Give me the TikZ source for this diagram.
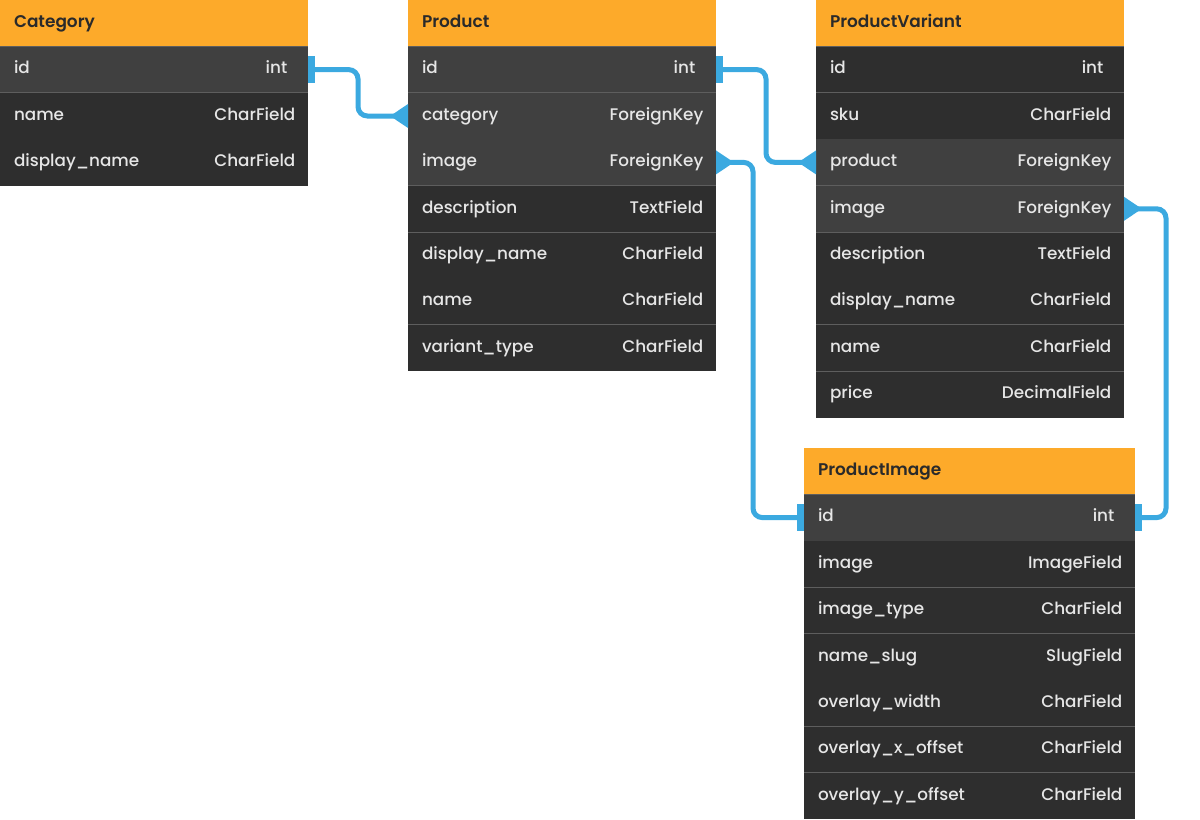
\documentclass[tikz,border=0pt]{standalone}
\usepackage{fontspec}
\setmainfont{Poppins}
\newfontfamily\medfont{Poppins Medium}
\newfontfamily\semifont{Poppins SemiBold}
\usetikzlibrary{positioning, arrows.meta, calc}
\definecolor{headorange}{HTML}{FDAA2A}
\definecolor{headtext}{HTML}{2A2A2A}
\definecolor{rowdark}{HTML}{2E2E2E}
\definecolor{rowlight}{HTML}{404040}
\definecolor{rowline}{HTML}{5E5E5E}
\definecolor{fieldtext}{HTML}{E6E6E6}
\definecolor{linkblue}{HTML}{3BA9E0}
\tikzstyle{head} = [rectangle, fill=headorange, text=headtext, minimum height=34.8pt, text width=212pt, text height=9.5pt, text depth=3pt, inner xsep=9.5pt, inner ysep=0pt, outer sep=0pt, font=\semifont\fontsize{12.7}{14}\selectfont]
\tikzstyle{field} = [rectangle, fill=rowdark, text=fieldtext, minimum height=34.8pt, text width=212pt, text height=9.5pt, text depth=3pt, inner xsep=9.5pt, inner ysep=0pt, outer sep=0pt, font=\medfont\fontsize{12.6}{14}\selectfont]
\tikzstyle{key} = [field, fill=rowlight]
\tikzstyle{wide} = [text width=229.25pt]
\tikzstyle{sep} = [draw=rowline, line width=0.6pt]
\tikzstyle{rel} = [draw=linkblue, line width=3.75pt, rounded corners=7pt]
\tikzset{one/.tip={Rectangle[length=5.25pt,width=20pt]},
         many/.tip={Triangle[reversed,length=13.5pt,width=17pt]}}
\newcommand{\fld}[2]{\hspace*{1pt}#1\hfill #2}
\newcommand{\pk}{\hspace*{6pt}}

\begin{document}
\begin{tikzpicture}[x=0.75pt, y=-0.75pt]
  \useasboundingbox[fill=white] (0,0) rectangle (1200,819);

  % Category
  \node (cathead) [head, anchor=north west] at (0,0) {\fld{Category}{}};
  \node (catid) [key, below=0pt of cathead] {\fld{id}{int\pk}};
  \node (catname) [field, below=0pt of catid] {\fld{name}{CharField}};
  \node (catdisp) [field, below=0pt of catname] {\fld{display\_name}{CharField}};

  % Product
  \node (phead) [head, anchor=north west] at (408,0) {\fld{Product}{}};
  \node (pid) [key, below=0pt of phead] {\fld{id}{int\pk}};
  \node (pcat) [key, below=0pt of pid] {\fld{category}{ForeignKey}};
  \node (pimg) [key, below=0pt of pcat] {\fld{image}{ForeignKey}};
  \node (pdesc) [field, below=0pt of pimg] {\fld{description}{TextField}};
  \node (pdisp) [field, below=0pt of pdesc] {\fld{display\_name}{CharField}};
  \node (pname) [field, below=0pt of pdisp] {\fld{name}{CharField}};
  \node (ptype) [field, below=0pt of pname] {\fld{variant\_type}{CharField}};

  % ProductVariant
  \node (pvhead) [head, anchor=north west] at (816,0) {\fld{ProductVariant}{}};
  \node (pvid) [field, below=0pt of pvhead] {\fld{id}{int\pk}};
  \node (pvsku) [field, below=0pt of pvid] {\fld{sku}{CharField}};
  \node (pvprod) [key, below=0pt of pvsku] {\fld{product}{ForeignKey}};
  \node (pvimg) [key, below=0pt of pvprod] {\fld{image}{ForeignKey}};
  \node (pvdesc) [field, below=0pt of pvimg] {\fld{description}{TextField}};
  \node (pvdisp) [field, below=0pt of pvdesc] {\fld{display\_name}{CharField}};
  \node (pvname) [field, below=0pt of pvdisp] {\fld{name}{CharField}};
  \node (pvprice) [field, below=0pt of pvname] {\fld{price}{DecimalField}};

  % ProductImage
  \node (pihead) [head, wide, anchor=north west] at (804,448) {\fld{ProductImage}{}};
  \node (piid) [key, wide, below=0pt of pihead] {\fld{id}{int\pk}};
  \node (piimg) [field, wide, below=0pt of piid] {\fld{image}{ImageField}};
  \node (pitype) [field, wide, below=0pt of piimg] {\fld{image\_type}{CharField}};
  \node (pislug) [field, wide, below=0pt of pitype] {\fld{name\_slug}{SlugField}};
  \node (piwidth) [field, wide, below=0pt of pislug] {\fld{overlay\_width}{CharField}};
  \node (pixoff) [field, wide, below=0pt of piwidth] {\fld{overlay\_x\_offset}{CharField}};
  \node (piyoff) [field, wide, below=0pt of pixoff] {\fld{overlay\_y\_offset}{CharField}};

  \foreach \r in {cathead, catid, phead, pid, pimg, pdesc, pname,
                  pvhead, pvid, pvprod, pvimg, pvdisp, pvname,
                  pihead, piimg, pitype, piwidth, pixoff}
    \draw [sep] (\r.south west) -- (\r.south east);

  % relations
  \draw [rel, one-many] (catid.east) -| ($(catid.east)!0.5!(pcat.west)$) |- (pcat.west);
  \draw [rel, one-many] (pid.east) -| ($(pid.east)!0.5!(pvprod.west)$) |- (pvprod.west);
  \draw [rel, many-one] (pimg.east) -- ++(37,0) |- (piid.west);
  \draw [rel, many-one] (pvimg.east) -- ++(42,0) |- (piid.east);

\end{tikzpicture}
\end{document}
